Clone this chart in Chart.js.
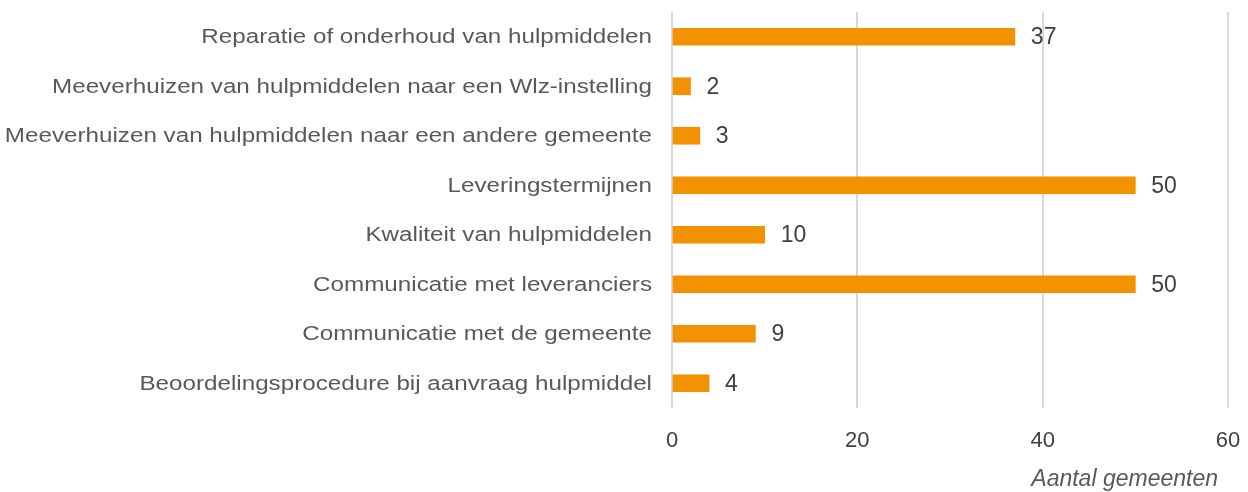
<!DOCTYPE html>
<html>
<head>
    <title>Knelpunten hulpmiddelen</title>
    <script src="https://cdn.jsdelivr.net/npm/chart.js@4.4.0/dist/chart.umd.min.js"></script>
    <style>
        body {
            margin: 0;
            background-color: white;
        }
        .chart-container {
            width: 1248px;
            height: 492px;
        }
    </style>
</head>
<body>
    <div class="chart-container">
        <canvas id="knelpuntenChart"></canvas>
    </div>

    <script>
        // data
        const categories = [
            'Reparatie of onderhoud van hulpmiddelen',
            'Meeverhuizen van hulpmiddelen naar een Wlz-instelling',
            'Meeverhuizen van hulpmiddelen naar een andere gemeente',
            'Leveringstermijnen',
            'Kwaliteit van hulpmiddelen',
            'Communicatie met leveranciers',
            'Communicatie met de gemeente',
            'Beoordelingsprocedure bij aanvraag hulpmiddel'
        ];
        const values = [37, 2, 3, 50, 10, 50, 9, 4];
        const xTicks = [0, 20, 40, 60];
        const axisTitle = 'Aantal gemeenten';

        const FONT = 'Arial, "Liberation Sans", sans-serif';

        // categorielabels (iets breed getrokken, zoals in het origineel),
        // waarden rechts van de balken en de astitel
        const labelsPlugin = {
            id: 'labelsPlugin',
            afterDatasetsDraw(chart) {
                const ctx = chart.ctx;
                const yScale = chart.scales.y;
                const meta = chart.getDatasetMeta(0);
                ctx.save();
                ctx.textBaseline = 'middle';

                ctx.font = '20px ' + FONT;
                ctx.fillStyle = '#595959';
                ctx.textAlign = 'right';
                categories.forEach((label, i) => {
                    const y = yScale.getPixelForValue(i);
                    ctx.save();
                    ctx.translate(chart.chartArea.left - 20, y + 1);
                    ctx.scale(1.21, 1);
                    ctx.fillText(label, 0, 0);
                    ctx.restore();
                });

                ctx.font = '23px ' + FONT;
                ctx.fillStyle = '#404040';
                ctx.textAlign = 'left';
                meta.data.forEach((bar, i) => {
                    ctx.fillText(values[i], bar.x + 16, bar.y + 1);
                });

                ctx.font = 'italic 23px ' + FONT;
                ctx.fillStyle = '#595959';
                ctx.textAlign = 'right';
                ctx.fillText(axisTitle, chart.chartArea.right - 10, chart.height - 12);
                ctx.restore();
            }
        };

        const ctx = document.getElementById('knelpuntenChart').getContext('2d');
        new Chart(ctx, {
            type: 'bar',
            data: {
                labels: categories,
                datasets: [{
                    data: values,
                    backgroundColor: '#F39200',
                    barThickness: 17
                }]
            },
            options: {
                indexAxis: 'y',
                responsive: true,
                maintainAspectRatio: false,
                animation: false,
                layout: {
                    padding: { top: 12, right: 20, left: 0, bottom: 0 }
                },
                plugins: {
                    legend: { display: false },
                    tooltip: { enabled: false }
                },
                scales: {
                    x: {
                        min: 0,
                        max: 60,
                        afterBuildTicks: function (scale) {
                            scale.ticks = xTicks.map(v => ({ value: v }));
                        },
                        afterFit: function (scale) {
                            scale.height = 84;
                            scale.paddingLeft = 0;
                            scale.paddingRight = 0;
                        },
                        grid: {
                            color: '#d9d9d9',
                            lineWidth: 2,
                            drawTicks: false
                        },
                        border: { display: false },
                        ticks: {
                            padding: 20,
                            color: '#404040',
                            font: { family: FONT, size: 22 }
                        }
                    },
                    y: {
                        afterFit: function (scale) {
                            scale.width = 672;
                            scale.paddingTop = 0;
                            scale.paddingBottom = 0;
                        },
                        grid: { display: false },
                        border: { display: false },
                        ticks: { display: false }
                    }
                }
            },
            plugins: [labelsPlugin]
        });
    </script>
</body>
</html>
